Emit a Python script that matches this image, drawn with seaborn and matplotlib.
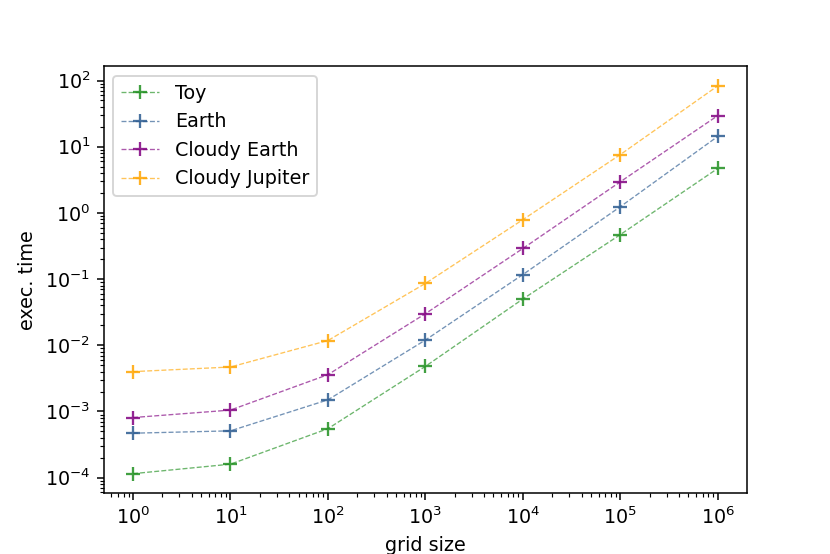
import numpy as np
import matplotlib
matplotlib.use("Agg")
import matplotlib.pyplot as plt
import matplotlib.colors as mcolors
import seaborn as sns

grid_size = [1, 10, 100, 1e3, 1e4, 1e5, 1e6]
toy = [1.15e-4, 1.6e-4, 5.5e-4, 4.8e-3, 0.05, 0.47, 4.7]
earth = [4.7e-4, 5.1e-4, 1.5e-3, 0.012, 0.117, 1.24, 14.3]
cloudy_earth = [8.1e-4, 1.05e-3, 3.6e-3, 0.030, 0.29, 2.95, 29.5]
cloudy_jupiter = [4.0e-3, 4.7e-3, 0.0118, 0.086, 0.79, 7.6, 83]

series = [
    ("Toy", toy, "#1f8f1f"),
    ("Earth", earth, "#2a5a90"),
    ("Cloudy Earth", cloudy_earth, "#800080"),
    ("Cloudy Jupiter", cloudy_jupiter, "#ffa500"),
]

plt.rcParams["font.family"] = ["DejaVu Sans"]

dpi = 138
fig, ax = plt.subplots(figsize=(830 / dpi, 554 / dpi), dpi=dpi)
for name, vals, color in series:
    sns.lineplot(x=grid_size, y=vals, ax=ax, label=name, color=color,
                 linestyle="--", linewidth=0.7, marker="+", markersize=7,
                 markeredgewidth=1.2, markeredgecolor=color)

# lines a bit see-through, markers stronger
for line, (name, vals, color) in zip(ax.lines, series):
    line.set_color(mcolors.to_rgba(color, 0.65))
    line.set_markeredgecolor(mcolors.to_rgba(color, 0.85))

ax.set_xscale("log")
ax.set_yscale("log")
ax.set_xlabel("grid size")
ax.set_ylabel("exec. time")
ax.legend(loc="upper left")

fig.savefig("out.png", dpi=dpi)
